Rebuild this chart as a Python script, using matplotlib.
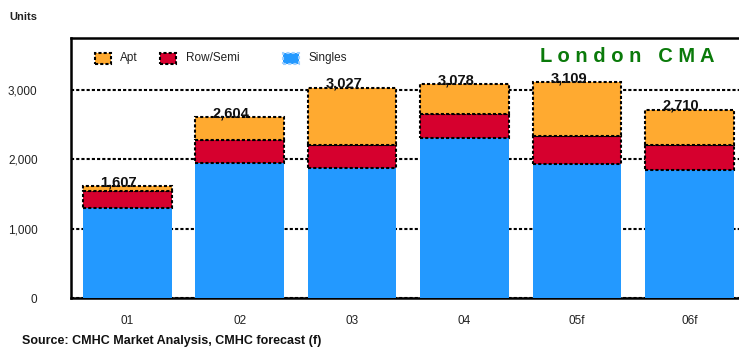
import matplotlib
matplotlib.use("Agg")
import matplotlib.pyplot as plt
from matplotlib.patches import Rectangle
import numpy as np

plt.rcParams['font.family'] = ['Liberation Sans', 'DejaVu Sans']

# data (units)
years = ["01", "02", "03", "04", "05f", "06f"]
singles = [1300, 1950, 1870, 2300, 1930, 1850]
row_semi = [240, 330, 330, 350, 410, 350]
apt = [67, 324, 827, 428, 769, 510]
totals = [1607, 2604, 3027, 3078, 3109, 2710]

c_apt = "#FFAA30"
c_row = "#D6002E"
c_single = "#2399FF"
dotted = (0, (1.5, 1))

fig = plt.figure(figsize=(7.39, 3.49), dpi=100)
ax = fig.add_axes([0.096, 0.146, 0.913, 0.746])

x = np.arange(len(years))
w = 0.79
singles = np.array(singles)
row_semi = np.array(row_semi)
apt = np.array(apt)

ax.bar(x, singles, w, color=c_single, edgecolor="none", zorder=2)
ax.bar(x, row_semi, w, bottom=singles, color=c_row, edgecolor="black",
       linewidth=1.5, linestyle=dotted, zorder=3)
ax.bar(x, apt, w, bottom=singles + row_semi, color=c_apt, edgecolor="black",
       linewidth=1.5, linestyle=dotted, zorder=3)

for i, t in enumerate(totals):
    ax.text(i - 0.075, t, f"{t:,}", ha="center", va="baseline",
            fontsize=10.5, fontweight="bold", color="#111111", zorder=5)

ax.set_xlim(-0.5, len(years) - 0.5)
ax.set_ylim(0, 3750)
ax.set_xticks(x)
ax.set_xticklabels(years)
ax.set_yticks([0, 1000, 2000, 3000])
ax.set_yticklabels([f"{v:,}" for v in [0, 1000, 2000, 3000]])
ax.tick_params(axis="y", length=0, pad=24, labelsize=8.5, labelcolor="#222222")
ax.tick_params(axis="x", length=0, pad=12, labelsize=8.5, labelcolor="#222222")

ax.set_axisbelow(True)
ax.yaxis.grid(True, color="black", linestyle=dotted, linewidth=1.5)
ax.spines["right"].set_visible(False)
for s in ["left", "top", "bottom"]:
    ax.spines[s].set_linestyle(dotted)
    ax.spines[s].set_linewidth(1.8)
    ax.spines[s].set_color("black")
ax.spines["bottom"].set_zorder(1)

# legend drawn in axes coordinates
leg_labels = ["Apt", "Row/Semi", "Singles"]
leg_colors = [c_apt, c_row, c_single]
leg_edges = ["black", "black", "#9fd0ff"]
leg_x = [0.035, 0.132, 0.314]
for lx, lab, fc, ec in zip(leg_x, leg_labels, leg_colors, leg_edges):
    ax.add_patch(Rectangle((lx, 0.9), 0.024, 0.042, transform=ax.transAxes,
                           facecolor=fc, edgecolor=ec, linewidth=1.5,
                           linestyle=dotted, clip_on=False, zorder=6))
    ax.text(lx + 0.038, 0.921, lab, transform=ax.transAxes, ha="left",
            va="center", fontsize=8.5, color="#222222")

ax.text(0.695, 0.926, "L o n d o n   C M A", transform=ax.transAxes,
        ha="left", va="center", fontsize=14.5, fontweight="bold",
        color="#0A7A0A")

fig.text(0.013, 0.952, "Units", fontsize=8, fontweight="bold", ha="left",
         va="center", color="#222222")
fig.text(0.03, 0.022, "Source: CMHC Market Analysis, CMHC forecast (f)",
         fontsize=9, fontweight="bold", ha="left", va="center", color="#111111")

fig.savefig("out.png", dpi=100)
